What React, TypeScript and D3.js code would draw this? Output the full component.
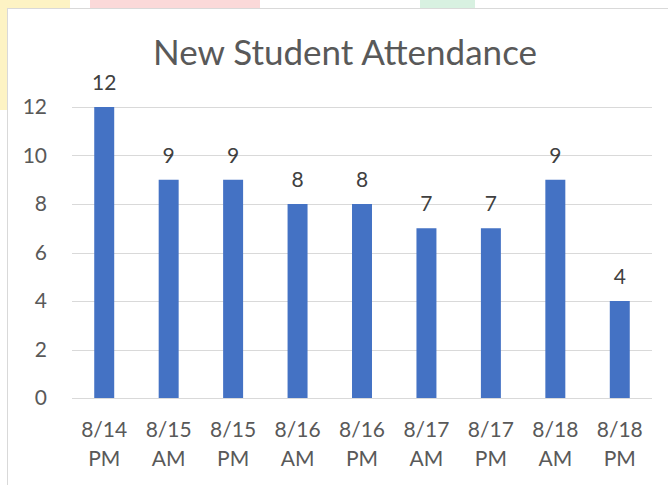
import React, { useRef, useEffect } from 'react';
import * as d3 from 'd3';

const categories = ['8/14 PM', '8/15 AM', '8/15 PM', '8/16 AM', '8/16 PM', '8/17 AM', '8/17 PM', '8/18 AM', '8/18 PM'];
const attendance = [12, 9, 9, 8, 8, 7, 7, 9, 4];
const yTicks = [0, 2, 4, 6, 8, 10, 12];
const chartTitle = 'New Student Attendance';

const FONT = "Lato, 'Open Sans', sans-serif";

function App() {
  const chartRef = useRef<SVGSVGElement>(null);

  useEffect(() => {
    const width = 668;
    const height = 485;
    const margin = { top: 107, right: 16, bottom: 87, left: 72 };

    const svg = d3.select(chartRef.current)
      .attr('width', width)
      .attr('height', height)
      .style('position', 'absolute')
      .style('left', '0px')
      .style('top', '0px')
      .style('background', '#fff');
    svg.selectAll('*').remove();

    // faint watermark colours peeking out above/left of the chart frame
    svg.append('rect').attr('x', 0).attr('y', 0).attr('width', 8).attr('height', 110).attr('fill', '#fdf3c4');
    svg.append('rect').attr('x', 0).attr('y', 0).attr('width', 70).attr('height', 9).attr('fill', '#fdf3c4');
    svg.append('rect').attr('x', 90).attr('y', 0).attr('width', 170).attr('height', 9).attr('fill', '#fbd9d9');
    svg.append('rect').attr('x', 420).attr('y', 0).attr('width', 55).attr('height', 9).attr('fill', '#d8f1e1');

    // chart frame
    svg.append('rect')
      .attr('x', 7.5).attr('y', 8.5)
      .attr('width', width).attr('height', height)
      .attr('fill', '#fff')
      .attr('stroke', '#d9d9d9');

    const innerW = width - margin.left - margin.right;
    const innerH = height - margin.top - margin.bottom;

    const x = d3.scaleBand().domain(categories).range([0, innerW]).paddingInner(0.69).paddingOuter(0.345);
    const y = d3.scaleLinear().domain([0, 12]).range([innerH, 0]);

    const g = svg.append('g').attr('transform', `translate(${margin.left},${margin.top})`);

    // gridlines
    g.selectAll('.grid')
      .data(yTicks)
      .enter().append('line')
      .attr('x1', 0).attr('x2', innerW)
      .attr('y1', d => Math.round(y(d)) + 0.5).attr('y2', d => Math.round(y(d)) + 0.5)
      .attr('stroke', '#d9d9d9').attr('stroke-width', 1);

    // y tick labels
    g.selectAll('.ytick')
      .data(yTicks)
      .enter().append('text')
      .attr('x', -25)
      .attr('y', d => y(d))
      .attr('dy', '0.35em')
      .attr('text-anchor', 'end')
      .attr('font-family', FONT)
      .attr('font-size', 21)
      .attr('fill', '#595959')
      .text(d => d);

    // bars
    g.selectAll('.bar')
      .data(attendance)
      .enter().append('rect')
      .attr('x', (d, i) => x(categories[i])!)
      .attr('y', d => y(d))
      .attr('width', x.bandwidth())
      .attr('height', d => innerH - y(d))
      .attr('fill', '#4472c4');

    // value labels
    g.selectAll('.val')
      .data(attendance)
      .enter().append('text')
      .attr('x', (d, i) => x(categories[i])! + x.bandwidth() / 2)
      .attr('y', d => y(d) - 17)
      .attr('text-anchor', 'middle')
      .attr('font-family', FONT)
      .attr('font-size', 21)
      .attr('fill', '#404040')
      .text(d => d);

    // x labels, two lines
    const xl = g.selectAll('.xlab')
      .data(categories)
      .enter().append('text')
      .attr('text-anchor', 'middle')
      .attr('font-family', FONT)
      .attr('font-size', 21)
      .attr('fill', '#595959');
    xl.each(function (d) {
      const parts = d.split(' ');
      const cx = x(d)! + x.bandwidth() / 2;
      parts.forEach((p, k) => {
        d3.select(this).append('tspan')
          .attr('x', cx)
          .attr('y', innerH + 39 + k * 29)
          .text(p);
      });
    });

    // title
    svg.append('text')
      .attr('x', 345)
      .attr('y', 65)
      .attr('text-anchor', 'middle')
      .attr('font-family', FONT)
      .attr('font-size', 35)
      .attr('fill', '#595959')
      .text(chartTitle);
  }, []);

  return <svg ref={chartRef}></svg>;
}

export default App;
